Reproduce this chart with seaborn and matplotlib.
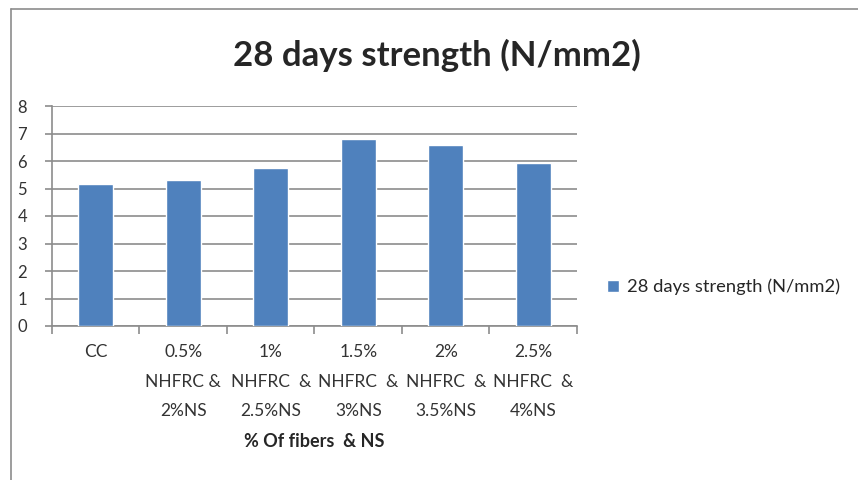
import matplotlib
matplotlib.use("Agg")
import matplotlib.pyplot as plt
import seaborn as sns
import pandas as pd
from matplotlib.lines import Line2D

categories = ["CC", "0.5%\nNHFRC &\n2%NS", "1%\nNHFRC  &\n2.5%NS", "1.5%\nNHFRC  &\n3%NS",
              "2%\nNHFRC  &\n3.5%NS", "2.5%\nNHFRC  &\n4%NS"]
strength = [5.17, 5.32, 5.74, 6.80, 6.58, 5.92]
series_name = "28 days strength (N/mm2)"
title = "28 days strength (N/mm2)"
xlabel = "% Of fibers  & NS"
yticks = [0, 1, 2, 3, 4, 5, 6, 7, 8]

sns.set_theme(style="white")
plt.rcParams["font.family"] = ["Lato", "DejaVu Sans"]

df = pd.DataFrame({"cat": categories, "val": strength})

fig = plt.figure(figsize=(8.58, 4.8), dpi=100)
ax = fig.add_axes([52/858, 1-326/480, (577-52)/858, (326-106)/480])

sns.barplot(data=df, x="cat", y="val", color="#4F81BD", width=0.4, saturation=1,
            ax=ax, label=series_name, zorder=3)

ax.set_ylim(0, 8)
ax.set_xlim(-0.5, len(categories) - 0.5)
ax.set_yticks(yticks)
ax.set_yticklabels([str(t) for t in yticks], fontsize=12, color="#333333")
ax.yaxis.grid(True, color="#8c8c8c", linewidth=1.2, zorder=0)
ax.set_axisbelow(True)
for s in ["top", "right"]:
    ax.spines[s].set_visible(False)
for s in ["left", "bottom"]:
    ax.spines[s].set_color("#8c8c8c")
    ax.spines[s].set_linewidth(1.2)

ax.tick_params(axis="y", which="major", length=5, width=1.2, color="#8c8c8c", pad=13, left=True)
ax.tick_params(axis="x", which="major", length=0, pad=13)
ax.set_xticks([i - 0.5 for i in range(len(categories) + 1)], minor=True)
ax.tick_params(axis="x", which="minor", length=6, width=1.2, color="#8c8c8c", bottom=True)
for lbl in ax.get_xticklabels():
    lbl.set_fontsize(12.5)
    lbl.set_color("#333333")
    lbl.set_linespacing(2.05)

ax.set_xlabel(xlabel, fontsize=13, fontweight="bold", labelpad=10)
ax.set_ylabel("")

fig.text(437/858, 1-55/480, title, fontsize=25, fontweight="bold", ha="center", va="center")

leg = ax.legend(loc="center left", bbox_to_anchor=(607/858, 1-287/480), bbox_transform=fig.transFigure,
                frameon=False, fontsize=13.2, handlelength=0.65, handleheight=0.65, handletextpad=0.45,
                borderpad=0, borderaxespad=0)

# outer frame
fig.add_artist(Line2D([11/858, 11/858], [0, 1-9/480], transform=fig.transFigure, color="#8c8c8c", lw=1.2))
fig.add_artist(Line2D([11/858, 1], [1-9/480, 1-9/480], transform=fig.transFigure, color="#8c8c8c", lw=1.2))

fig.savefig("out.png", dpi=100)
